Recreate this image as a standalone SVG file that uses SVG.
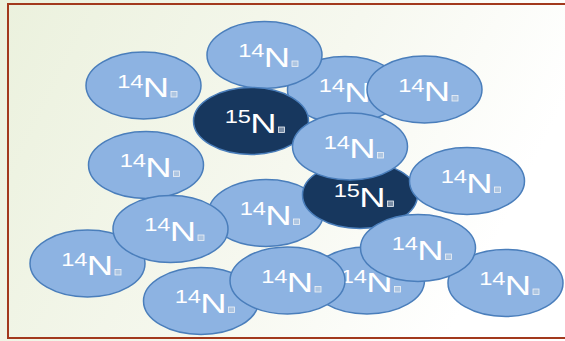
<svg xmlns="http://www.w3.org/2000/svg" xmlns:xlink="http://www.w3.org/1999/xlink" width="565" height="341" viewBox="0 0 565 341">
<defs>
<linearGradient id="bg" x1="0" y1="0" x2="1" y2="0.3">
<stop offset="0" stop-color="#ebf1dd"/>
<stop offset="0.6" stop-color="#f6f8ef"/>
<stop offset="1" stop-color="#ffffff"/>
</linearGradient>
<style>
.e{fill:#8db3e2;stroke:#4a7ebb;stroke-width:1.5}
.d{fill:#17375e;stroke:#4a7ebb;stroke-width:1.5}
.t{font-family:"Liberation Sans",Arial,sans-serif;font-size:27px;fill:#ffffff}
.s{font-size:17.5px}
.b{fill:#c9d3e0;fill-opacity:0.55;stroke:#eef2f7;stroke-width:0.8}
</style>
<g id="lbl14">
<text class="t" transform="scale(1.35,1)"><tspan class="s" x="-19.5" y="2.3">14</tspan><tspan x="-0.5" y="11.7">N</tspan></text>
<rect class="b" x="27.5" y="6" width="6" height="5.5"/>
</g>
<g id="lbl15">
<text class="t" transform="scale(1.35,1)"><tspan class="s" x="-19.5" y="2.3">15</tspan><tspan x="-0.5" y="11.7">N</tspan></text>
<rect class="b" x="27.5" y="6" width="6" height="5.5"/>
</g>
</defs>
<rect x="0" y="0" width="565" height="341" fill="url(#bg)"/>
<path d="M566 4 H8 V338 H566" fill="none" stroke="#a2391d" stroke-width="2"/>
<g id="connectors"></g>
<g id="nA" transform="translate(143.5,85.5)"><ellipse class="e" rx="57.5" ry="33.5"/><use xlink:href="#lbl14"/></g>
<g id="nG" transform="translate(146,165)"><ellipse class="e" rx="57.5" ry="33.5"/><use xlink:href="#lbl14"/></g>
<g id="nC" transform="translate(345,90)"><ellipse class="e" rx="57.5" ry="33.5"/><use xlink:href="#lbl14"/></g>
<g id="nB" transform="translate(264.5,55)"><ellipse class="e" rx="57.5" ry="33.5"/><use xlink:href="#lbl14"/></g>
<g id="nD" transform="translate(424.5,89.5)"><ellipse class="e" rx="57.5" ry="33.5"/><use xlink:href="#lbl14"/></g>
<g id="nE" transform="translate(251,121)"><ellipse class="d" rx="57.5" ry="33.5"/><use xlink:href="#lbl15"/></g>
<g id="nJ" transform="translate(266,213)"><ellipse class="e" rx="57.5" ry="33.5"/><use xlink:href="#lbl14"/></g>
<g id="nH" transform="translate(360,195)"><ellipse class="d" rx="57.5" ry="33.5"/><use xlink:href="#lbl15"/></g>
<g id="nF" transform="translate(350,146.5)"><ellipse class="e" rx="57.5" ry="33.5"/><use xlink:href="#lbl14"/></g>
<g id="nI" transform="translate(467,181)"><ellipse class="e" rx="57.5" ry="33.5"/><use xlink:href="#lbl14"/></g>
<g id="nL" transform="translate(87.5,263.5)"><ellipse class="e" rx="57.5" ry="33.5"/><use xlink:href="#lbl14"/></g>
<g id="nK" transform="translate(170.5,229)"><ellipse class="e" rx="57.5" ry="33.5"/><use xlink:href="#lbl14"/></g>
<g id="nM" transform="translate(367,280.5)"><ellipse class="e" rx="57.5" ry="33.5"/><use xlink:href="#lbl14"/></g>
<g id="nO" transform="translate(505.5,283)"><ellipse class="e" rx="57.5" ry="33.5"/><use xlink:href="#lbl14"/></g>
<g id="nN" transform="translate(418,248)"><ellipse class="e" rx="57.5" ry="33.5"/><use xlink:href="#lbl14"/></g>
<g id="nP" transform="translate(201,301)"><ellipse class="e" rx="57.5" ry="33.5"/><use xlink:href="#lbl14"/></g>
<g id="nQ" transform="translate(287.5,280.5)"><ellipse class="e" rx="57.5" ry="33.5"/><use xlink:href="#lbl14"/></g>
</svg>
